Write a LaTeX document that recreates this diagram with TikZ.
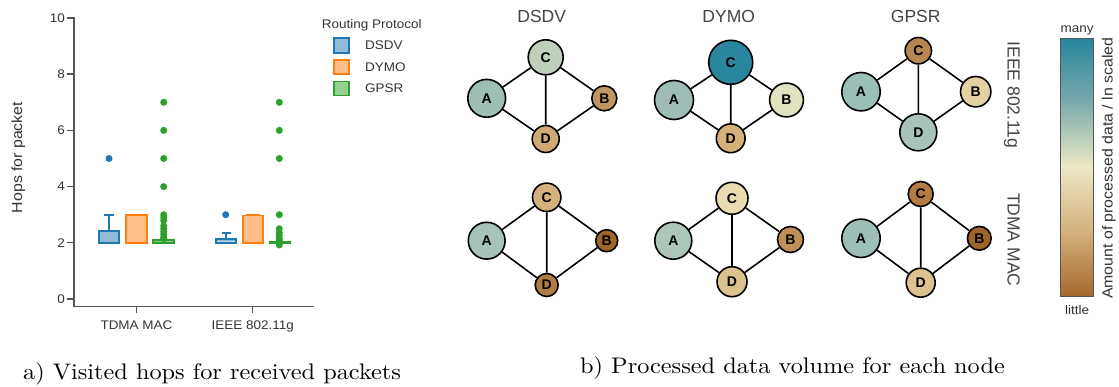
\documentclass[tikz,border=0pt]{standalone}
\usepackage{fontspec}
\newfontfamily\pf[FakeStretch=1.08]{Liberation Sans}
\newfontfamily\tf{Liberation Sans}
\newfontfamily\capf{lmroman10-regular.otf}[FakeStretch=1.08]
\definecolor{dsdvc}{HTML}{1F77B4}
\definecolor{dsdvf}{HTML}{8FBBD9}
\definecolor{dymoc}{HTML}{FF7F0E}
\definecolor{dymof}{HTML}{FFBE86}
\definecolor{gpsrc}{HTML}{2CA02C}
\definecolor{gpsrf}{HTML}{96CF95}
\definecolor{axgray}{HTML}{555555}
\definecolor{tickgray}{HTML}{333333}
\definecolor{titlegray}{HTML}{444444}
% node colours
\definecolor{aAc}{RGB}{158,189,180}
\definecolor{aBc}{RGB}{192,150,96}
\definecolor{aCc}{RGB}{190,208,187}
\definecolor{aDc}{RGB}{207,168,115}
\definecolor{bAc}{RGB}{167,194,182}
\definecolor{bBc}{RGB}{158,100,42}
\definecolor{bCc}{RGB}{212,176,124}
\definecolor{bDc}{RGB}{176,124,68}
\definecolor{cAc}{RGB}{157,188,181}
\definecolor{cBc}{RGB}{226,226,192}
\definecolor{cCc}{RGB}{42,134,158}
\definecolor{cDc}{RGB}{212,176,122}
\definecolor{dAc}{RGB}{174,198,184}
\definecolor{dBc}{RGB}{192,144,88}
\definecolor{dCc}{RGB}{232,220,176}
\definecolor{dDc}{RGB}{220,195,142}
\definecolor{eAc}{RGB}{154,191,184}
\definecolor{eBc}{RGB}{226,209,163}
\definecolor{eCc}{RGB}{184,134,80}
\definecolor{eDc}{RGB}{168,196,184}
\definecolor{fAc}{RGB}{157,191,184}
\definecolor{fBc}{RGB}{159,100,40}
\definecolor{fCc}{RGB}{180,124,66}
\definecolor{fDc}{RGB}{220,194,144}
% colour bar stops
\definecolor{cb1}{RGB}{41,133,158}
\definecolor{cb2}{RGB}{120,170,172}
\definecolor{cb3}{RGB}{236,233,197}
\definecolor{cb4}{RGB}{212,176,124}
\definecolor{cb5}{RGB}{165,104,44}
\begin{document}
\begin{tikzpicture}[x=1pt,y=-1pt,
  axisline/.style={draw=axgray, line width=1.4pt},
  tlab/.style={font=\pf\fontsize{12.5}{14}\selectfont, text=tickgray, inner sep=0pt},
  alab/.style={font=\pf\fontsize{14.7}{17}\selectfont, text=tickgray, inner sep=0pt},
  boxln/.style={line width=1.8pt},
  gnode/.style={circle, draw=black, line width=1.6pt, inner sep=0pt,
    font=\tf\bfseries\fontsize{14}{16}\selectfont},
  gedge/.style={draw=black, line width=1.6pt},
  ttl/.style={font=\tf\fontsize{17.5}{20}\selectfont, text=titlegray, inner sep=0pt},
  capt/.style={font=\capf\fontsize{22.5}{27}\selectfont, inner sep=0pt}
]
\useasboundingbox (0,0) rectangle (1119,387);

% ---------------- left plot ----------------
\draw[axisline] (74,17) -- (74,306.7) -- (314,306.7);
\foreach \v/\yy in {0/299,2/242.8,4/186.6,6/130.4,8/74.2,10/18}{
  \draw[axisline] (67,\yy) -- (74,\yy);
  \node[tlab, anchor=east] (yt\v) at (65,\yy) {\v};
}
\draw[axisline] (136.5,306.7) -- (136.5,313.5);
\draw[axisline] (252.7,306.7) -- (252.7,313.5);
\node[tlab, anchor=base] (xt1) at (136.5,329.3) {TDMA MAC};
\node[tlab, anchor=base] (xt2) at (252.7,329.3) {IEEE 802.11g};
\node[alab, rotate=90, anchor=base] (ylab) at (22,157.5) {Hops for packet};

% TDMA MAC group
\filldraw[boxln, draw=dsdvc, fill=dsdvf] (99,242.8) rectangle (119.3,231.0);
\draw[boxln, dsdvc] (109.2,231.0) -- (109.2,214.7) (104.3,214.7) -- (114,214.7);
\fill[dsdvc] (109,158.5) circle[radius=3.5pt];
\filldraw[boxln, draw=dymoc, fill=dymof] (126,242.8) rectangle (146.7,214.7);
\filldraw[boxln, draw=gpsrc, fill=gpsrf] (152.7,242.8) rectangle (174.3,240);
\foreach \yy in {102.3,130.4,158.5,186.6,214.7,217.5,220.3,225.9,228.75,231.6,234.4,237.2,238.6}
  \fill[gpsrc] (163.7,\yy) circle[radius=3.5pt];

% IEEE 802.11g group
\filldraw[boxln, draw=dsdvc, fill=dsdvf] (215.7,242.8) rectangle (236,238.7);
\draw[line width=0.8pt, dsdvf!60!white] (217,241) -- (234.7,241);
\draw[boxln, dsdvc] (225.8,238.7) -- (225.8,232.7) (221.7,232.7) -- (230.7,232.7);
\fill[dsdvc] (225.7,214.7) circle[radius=3.5pt];
\filldraw[boxln, draw=dymoc, fill=dymof] (242.7,242.8) rectangle (262.7,215.5);
\draw[boxln, dymoc] (246,214.7) -- (259.5,214.7);
\filldraw[boxln, draw=gpsrc, fill=gpsrf] (270,243.6) rectangle (290,242.2);
\foreach \yy in {102.3,130.4,158.5,214.7,228.75,232.8,235.8,238.6,240.3,245}
  \fill[gpsrc] (279.3,\yy) circle[radius=3.5pt];

% legend
\node[tlab, anchor=base west] (legt) at (321.7,28.3) {Routing Protocol};
\filldraw[boxln, draw=dsdvc, fill=dsdvf] (334.3,38.3) rectangle (349.3,52.7);
\filldraw[boxln, draw=dymoc, fill=dymof] (334.3,60) rectangle (349.3,74);
\filldraw[boxln, draw=gpsrc, fill=gpsrf] (334.3,81.5) rectangle (349.3,95.5);
\node[tlab, anchor=west] (leg1) at (365,45.5) {DSDV};
\node[tlab, anchor=west] (leg2) at (365,67) {DYMO};
\node[tlab, anchor=west] (leg3) at (365,88.5) {GPSR};

% ---------------- right panel ----------------
\node[ttl] (t1) at (541.7,16.3) {DSDV};
\node[ttl] (t2) at (728.7,16.3) {DYMO};
\node[ttl] (t3) at (915.7,16.3) {GPSR};
\node[ttl, rotate=-90, anchor=base] (r1) at (1007.5,95) {IEEE 802.11g};
\node[ttl, rotate=-90, anchor=base] (r2) at (1007.5,239.7) {TDMA MAC};

% DSDV / IEEE
\node[gnode, fill=aAc, minimum size=37.8pt] (aA) at (486.7,98.3) {A};
\node[gnode, fill=aBc, minimum size=25pt] (aB) at (604.3,98.3) {B};
\node[gnode, fill=aCc, minimum size=35pt] (aC) at (545.7,57.3) {C};
\node[gnode, fill=aDc, minimum size=27pt] (aD) at (545.7,139) {D};
% DSDV / TDMA
\node[gnode, fill=bAc, minimum size=36.8pt] (bA) at (486.7,240.7) {A};
\node[gnode, fill=bBc, minimum size=22pt] (bB) at (606.7,240.7) {B};
\node[gnode, fill=bCc, minimum size=28.4pt] (bC) at (546.7,197.3) {C};
\node[gnode, fill=bDc, minimum size=23pt] (bD) at (546.7,285) {D};
% DYMO / IEEE
\node[gnode, fill=cAc, minimum size=39pt] (cA) at (674,100) {A};
\node[gnode, fill=cBc, minimum size=33.8pt] (cB) at (786.5,100) {B};
\node[gnode, fill=cCc, minimum size=44pt] (cC) at (730.7,62.3) {C};
\node[gnode, fill=cDc, minimum size=28.8pt] (cD) at (730.7,138.3) {D};
% DYMO / TDMA
\node[gnode, fill=dAc, minimum size=37pt] (dA) at (673.3,240.7) {A};
\node[gnode, fill=dBc, minimum size=26pt] (dB) at (790.5,239.5) {B};
\node[gnode, fill=dCc, minimum size=32pt] (dC) at (732,198.3) {C};
\node[gnode, fill=dDc, minimum size=30pt] (dD) at (732,281.7) {D};
% GPSR / IEEE
\node[gnode, fill=eAc, minimum size=38.4pt] (eA) at (861,91.7) {A};
\node[gnode, fill=eBc, minimum size=30.4pt] (eB) at (975.7,91.7) {B};
\node[gnode, fill=eCc, minimum size=26.4pt] (eC) at (918.3,50.7) {C};
\node[gnode, fill=eDc, minimum size=37pt] (eD) at (918.3,132.3) {D};
% GPSR / TDMA
\node[gnode, fill=fAc, minimum size=38.4pt] (fA) at (861,238.3) {A};
\node[gnode, fill=fBc, minimum size=23.8pt] (fB) at (979.3,238.3) {B};
\node[gnode, fill=fCc, minimum size=25pt] (fC) at (920.7,194) {C};
\node[gnode, fill=fDc, minimum size=29pt] (fD) at (920.7,282.7) {D};

\foreach \p in {a,b,c,d,e,f}
  \draw[gedge] (\p A) -- (\p C) (\p C) -- (\p B) (\p B) -- (\p D) (\p D) -- (\p A) (\p C) -- (\p D);

% colour bar
\shade[top color=cb1, bottom color=cb2] (1060,39) rectangle (1093.3,101.5);
\shade[top color=cb2, bottom color=cb3] (1060,101) rectangle (1093.3,166);
\shade[top color=cb3, bottom color=cb4] (1060,165.5) rectangle (1093.3,232.5);
\shade[top color=cb4, bottom color=cb5] (1060,232) rectangle (1093.3,296.7);
\draw[axgray, line width=1pt] (1060,39) rectangle (1093.3,296.7);
\node[tlab, anchor=base] (many) at (1077,33) {many};
\node[tlab, anchor=base] (little) at (1077,315) {little};
\node[alab, rotate=90, anchor=base] (cbl) at (1112.5,168.3) {Amount of processed data / ln scaled};

% captions
\node[capt, anchor=base west] (capa) at (23,379.3) {a) Visited hops for received packets};
\node[capt, anchor=base west] (capb) at (580,373.3) {b) Processed data volume for each node};
\end{tikzpicture}
\end{document}
